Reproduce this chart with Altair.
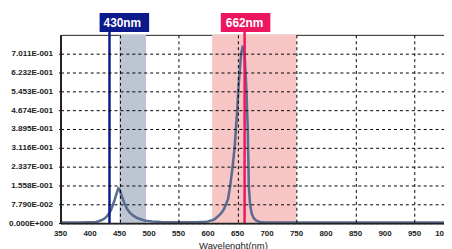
import altair as alt
import pandas as pd

# ---- data ----
wavelength = [350, 380, 400, 410, 415, 420, 425, 430, 435, 439, 442, 445, 448, 450, 453, 456, 459, 463,
              468, 474, 480, 487, 494, 505, 520, 550, 580, 595, 600, 607, 612, 617, 622, 627, 630.5, 634,
              637.7, 641.7, 645.1, 647.3, 649.5, 651.2, 653.5, 656.2, 658.5, 660, 661.9, 663.6, 665.2,
              666.2, 667.4, 667.9, 668.6, 669.1, 671.3, 674, 677.5, 682, 688, 695, 700, 800, 1000]
intensity = [0.002, 0.002, 0.003, 0.005, 0.008, 0.013, 0.020, 0.032, 0.052, 0.076, 0.098, 0.123, 0.144,
             0.140, 0.118, 0.097, 0.078, 0.058, 0.042, 0.030, 0.021, 0.015, 0.010, 0.007, 0.005, 0.003,
             0.004, 0.006, 0.007, 0.012, 0.018, 0.028, 0.040, 0.058, 0.078, 0.100, 0.156, 0.234, 0.312,
             0.390, 0.467, 0.545, 0.623, 0.701, 0.728, 0.725, 0.701, 0.623, 0.545, 0.467, 0.390, 0.312,
             0.234, 0.156, 0.078, 0.040, 0.020, 0.010, 0.005, 0.003, 0.002, 0.002, 0.002]

band_start = [450, 607]
band_end = [495, 750]
band_color = ["#bdc5d3", "#f8c5c5"]

marker_nm = [433, 662]
marker_label = ["430nm", "662nm"]
marker_color = ["#0d1a8c", "#ec1760"]

x_ticks = list(range(350, 1001, 50))
y_step = 0.0779
y_tick_labels = ["0.000E+000", "7.790E-002", "1.558E-001", "2.337E-001", "3.116E-001",
                 "3.895E-001", "4.674E-001", "5.453E-001", "6.232E-001", "7.011E-001"]
y_ticks = [round(i * y_step, 4) for i in range(len(y_tick_labels))]
y_max = 0.779

FONT = "Liberation Sans, Arial, sans-serif"

spec_df = pd.DataFrame({"nm": wavelength, "val": intensity})
band_df = pd.DataFrame({"s": band_start, "e": band_end, "c": band_color})
mark_df = pd.DataFrame({"nm": marker_nm, "label": marker_label, "c": marker_color})
xtick_df = pd.DataFrame({"t": x_ticks})

xscale = alt.Scale(domain=[350, 1000], nice=False, zero=False)
yscale = alt.Scale(domain=[0, y_max], nice=False)

label_expr = "[" + ",".join("'%s'" % s for s in y_tick_labels) + "][round(datum.value/%s)]" % y_step

xaxis = alt.Axis(values=x_ticks, grid=True, ticks=False, labels=False,
                 domainColor="#222", domainWidth=2,
                 title="Wavelenght(nm)", titleFont=FONT, titleFontSize=9.5, titleFontWeight="normal",
                 titleColor="#222", titleX=174, titleY=26, titleBaseline="alphabetic",
                 titleAlign="center", zindex=1)
yaxis = alt.Axis(values=y_ticks, grid=True, tickSize=4, tickColor="#000", tickDash=[2, 2], labelPadding=4,
                 labelFont=FONT, labelFontSize=8.2, labelFontWeight="bold", labelColor="#222",
                 labelOverlap=False, labelExpr=label_expr, domainColor="#222", domainWidth=2,
                 title=None, zindex=1)

bands = alt.Chart(band_df).mark_rect().encode(
    x=alt.X("s:Q", scale=xscale),
    x2="e:Q",
    y=alt.value(0),
    y2=alt.value(190),
    color=alt.Color("c:N", scale=None),
)

spectrum = alt.Chart(spec_df).mark_line(color="#5a6d91", strokeWidth=2.6).encode(
    x=alt.X("nm:Q", scale=xscale, axis=xaxis),
    y=alt.Y("val:Q", scale=yscale, axis=yaxis),
)

xlabels = alt.Chart(xtick_df).mark_text(font=FONT, fontSize=8, fontWeight="bold", color="#222",
                                        baseline="middle", align="center").encode(
    x=alt.X("t:Q", scale=xscale),
    y=alt.value(201),
    text=alt.Text("t:Q", format="d"),
)

lines = alt.Chart(mark_df).mark_rule(strokeWidth=2.5).encode(
    x=alt.X("nm:Q", scale=xscale),
    y=alt.value(-3),
    y2=alt.value(190),
    color=alt.Color("c:N", scale=None),
)

box_path = "M-1,-0.38L1,-0.38L1,0.38L-1,0.38Z"
box1 = alt.Chart(mark_df.iloc[[0]]).mark_point(shape=box_path, filled=True, size=2500, opacity=1,
                                                 strokeWidth=0, xOffset=15).encode(
    x=alt.X("nm:Q", scale=xscale), y=alt.value(-12.5), color=alt.Color("c:N", scale=None))
box2 = alt.Chart(mark_df.iloc[[1]]).mark_point(shape=box_path, filled=True, size=2500, opacity=1,
                                                 strokeWidth=0, xOffset=1).encode(
    x=alt.X("nm:Q", scale=xscale), y=alt.value(-12.5), color=alt.Color("c:N", scale=None))
txt1 = alt.Chart(mark_df.iloc[[0]]).mark_text(font=FONT, fontSize=12, fontWeight="bold", color="white",
                                               baseline="middle", xOffset=13).encode(
    x=alt.X("nm:Q", scale=xscale), y=alt.value(-12), text="label:N")
txt2 = alt.Chart(mark_df.iloc[[1]]).mark_text(font=FONT, fontSize=12, fontWeight="bold", color="white",
                                               baseline="middle", xOffset=0).encode(
    x=alt.X("nm:Q", scale=xscale), y=alt.value(-12), text="label:N")

chart = alt.layer(bands, spectrum, lines, box1, box2, txt1, txt2, xlabels).properties(
    width=387, height=190,
    autosize=alt.AutoSizeParams(type="none"),
    padding={"left": 53, "top": 26, "right": 0, "bottom": 26},
).configure_view(stroke="#222", strokeWidth=1).configure_axis(
    gridDash=[3, 3], gridColor="#000", gridOpacity=1, gridWidth=1
)

chart.save("out.html", embed_options={"renderer": "svg", "actions": False})
